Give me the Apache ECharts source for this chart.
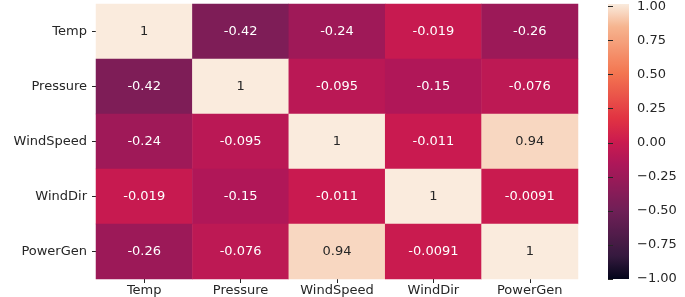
<!DOCTYPE html>
<html>
<head>
<meta charset="utf-8">
<script src="https://cdn.jsdelivr.net/npm/echarts@6/dist/echarts.min.js"></script>
<style>
html,body{margin:0;padding:0;background:#fff;}
#chart{width:685px;height:297px;}
</style>
</head>
<body>
<div id="chart"></div>
<script>
// ---- data ----
var categories = ['Temp', 'Pressure', 'WindSpeed', 'WindDir', 'PowerGen'];
var rowTemp      = [1, -0.42, -0.24, -0.019, -0.26];
var rowPressure  = [-0.42, 1, -0.095, -0.15, -0.076];
var rowWindSpeed = [-0.24, -0.095, 1, -0.011, 0.94];
var rowWindDir   = [-0.019, -0.15, -0.011, 1, -0.0091];
var rowPowerGen  = [-0.26, -0.076, 0.94, -0.0091, 1];
var colorbarTicks = [-1, -0.75, -0.5, -0.25, 0, 0.25, 0.5, 0.75, 1];
var colorbarTickLabels = ['\u22121.00', '\u22120.75', '\u22120.50', '\u22120.25', '0.00', '0.25', '0.50', '0.75', '1.00'];

var rows = [rowTemp, rowPressure, rowWindSpeed, rowWindDir, rowPowerGen];

// ---- rocket colormap (style) ----
var anchors = [
  [0.0, '#03051a'], [0.083, '#35193e'], [0.25, '#701f57'], [0.417, '#ad1759'],
  [0.5, '#cb1b4f'], [0.583, '#e13342'], [0.75, '#f37651'], [0.917, '#f6b48f'], [1.0, '#faebdd']
];
function hex2rgb(h){return [parseInt(h.substr(1,2),16),parseInt(h.substr(3,2),16),parseInt(h.substr(5,2),16)];}
function sample(t){
  for (var i=0;i<anchors.length-1;i++){
    var a=anchors[i], b=anchors[i+1];
    if (t>=a[0] && t<=b[0]){
      var f=(t-a[0])/(b[0]-a[0]); var ca=hex2rgb(a[1]), cb=hex2rgb(b[1]);
      var c=ca.map(function(v,k){return Math.round(v+(cb[k]-v)*f);});
      return 'rgb('+c.join(',')+')';
    }
  }
  return anchors[anchors.length-1][1];
}
var NS = 96;
var cmap=[]; for (var s=0;s<=NS;s++){cmap.push(sample(s/NS));}
// gradient for colorbar: top = max (1.0), bottom = min (-1.0)
var cbStops = cmap.map(function(c, i){ return { offset: 1 - i/NS, color: c }; }).reverse();

function fmt2g(v){ return String(Number(v.toPrecision(2))); }

var heatData = [];
rows.forEach(function(r, yi){
  r.forEach(function(v, xi){
    heatData.push({
      value: [xi, yi, v],
      label: { color: v > 0.5 ? '#262626' : '#ffffff' }
    });
  });
});

var FONT = 'DejaVu Sans';
var CB = { x: 608, y: 4, w: 21, h: 275 };
var chart = echarts.init(document.getElementById('chart'), null, {renderer:'canvas'});
chart.setOption({
  animation: false,
  backgroundColor: '#ffffff',
  grid: [
    { left: 96, top: 4, width: 482, height: 275, containLabel: false },
    { left: CB.x, top: CB.y, width: CB.w, height: CB.h, containLabel: false }
  ],
  xAxis: [
    {
      type: 'category', data: categories, gridIndex: 0, position: 'bottom',
      axisLine: { show: false },
      axisTick: { show: true, length: 4, alignWithLabel: true, lineStyle: { color: '#262626', width: 1 } },
      axisLabel: { color: '#262626', fontFamily: FONT, fontSize: 13, margin: 5 },
      splitLine: { show: false }
    },
    { type: 'value', gridIndex: 1, show: false, min: 0, max: 1 }
  ],
  yAxis: [
    {
      type: 'category', data: categories, gridIndex: 0, inverse: true,
      axisLine: { show: false },
      axisTick: { show: true, length: 4, alignWithLabel: true, lineStyle: { color: '#262626', width: 1 } },
      axisLabel: { color: '#262626', fontFamily: FONT, fontSize: 13, margin: 9 },
      splitLine: { show: false }
    },
    {
      type: 'value', gridIndex: 1, position: 'right', min: -1, max: 1, interval: 0.25,
      axisLine: { show: false },
      axisTick: { show: true, length: 5, lineStyle: { color: '#262626', width: 1 } },
      axisLabel: {
        color: '#262626', fontFamily: FONT, fontSize: 13, margin: 8,
        formatter: function(v){ var i = colorbarTicks.indexOf(Math.round(v*100)/100); return i >= 0 ? colorbarTickLabels[i] : ''; }
      },
      splitLine: { show: false }
    }
  ],
  visualMap: {
    type: 'continuous', min: -1, max: 1, seriesIndex: 0, dimension: 2,
    show: false,
    inRange: { color: cmap }
  },
  graphic: [{
    type: 'rect', left: CB.x, top: CB.y, silent: true, z: 0,
    shape: { width: CB.w, height: CB.h },
    style: { fill: new echarts.graphic.LinearGradient(0, 0, 0, 1, cbStops) }
  }],
  series: [{
    type: 'heatmap', xAxisIndex: 0, yAxisIndex: 0,
    data: heatData,
    label: {
      show: true, fontFamily: FONT, fontSize: 13,
      formatter: function(p){ return fmt2g(p.value[2]); }
    },
    itemStyle: { borderWidth: 0 },
    emphasis: { disabled: true }
  }]
});
</script>
</body>
</html>
